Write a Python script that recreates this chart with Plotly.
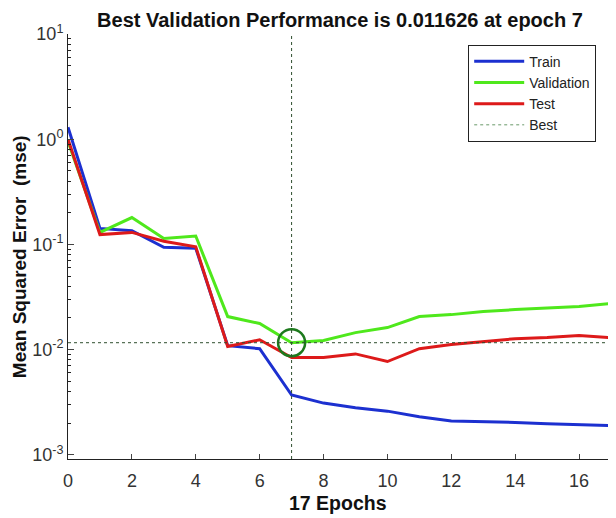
import plotly.graph_objects as go

# performance per epoch
epochs = list(range(18))
train = [1.3, 0.142, 0.135, 0.094, 0.092, 0.0109, 0.0102, 0.0037, 0.0031, 0.0028,
         0.0026, 0.0023, 0.0021, 0.00207, 0.00203, 0.00197, 0.00193, 0.00189]
validation = [0.95, 0.13, 0.18, 0.114, 0.12, 0.0206, 0.0177, 0.011626, 0.0122, 0.0145,
              0.0162, 0.0206, 0.0215, 0.023, 0.024, 0.0248, 0.0257, 0.0274]
test = [1.0, 0.124, 0.13, 0.107, 0.095, 0.0107, 0.0124, 0.0084, 0.0084, 0.0091,
        0.0077, 0.0102, 0.0112, 0.0119, 0.0127, 0.013, 0.0136, 0.013]
best_epoch = 7
best_perf = 0.011626

y_major = [1e-3, 1e-2, 1e-1, 1e0, 1e1]
y_labels = ["10<sup>-3</sup>", "10<sup>-2</sup>", "10<sup>-1</sup>", "10<sup>0</sup>", "10<sup>1</sup>"]
y_minor = [m * d for d in [1e-3, 1e-2, 1e-1, 1e0] for m in range(2, 10)]
x_ticks = list(range(0, 17, 2))

font = "Liberation Sans, Arial, sans-serif"

fig = go.Figure()
fig.add_trace(go.Scatter(x=epochs, y=train, mode="lines", name="Train",
                         line=dict(color="#1c30d0", width=3)))
fig.add_trace(go.Scatter(x=epochs, y=validation, mode="lines", name="Validation",
                         line=dict(color="#4fe81c", width=3)))
fig.add_trace(go.Scatter(x=epochs, y=test, mode="lines", name="Test",
                         line=dict(color="#dd1a1a", width=3)))
fig.add_trace(go.Scatter(x=[None], y=[None], mode="lines", name="Best",
                         line=dict(color="#6a9a6a", width=1, dash="dot")))
# best point circle
fig.add_trace(go.Scatter(x=[best_epoch], y=[best_perf], mode="markers", showlegend=False,
                         marker=dict(symbol="circle-open", size=27,
                                     line=dict(color="#1d7a1d", width=2.5), color="#1d7a1d")))

fig.add_shape(type="line", xref="x", yref="paper", x0=best_epoch, x1=best_epoch, y0=0, y1=1,
              line=dict(color="#2f4f2f", width=1, dash="dot"))
fig.add_shape(type="line", xref="paper", yref="y", x0=0, x1=1, y0=best_perf, y1=best_perf,
              line=dict(color="#2f4f2f", width=1, dash="dot"))

# axis titles placed by hand
fig.add_annotation(text="<b>17 Epochs</b>", xref="paper", yref="paper", x=0.497, y=-0.1035,
                   xanchor="center", yanchor="middle", showarrow=False,
                   font=dict(size=19.5, color="#111111"))
fig.add_annotation(text="<b>Mean Squared Error  (mse)</b>", xref="paper", yref="paper",
                   x=-0.0902, y=0.475, xanchor="center", yanchor="middle", textangle=-90,
                   showarrow=False, font=dict(size=19, color="#111111"))

# page body adds 8px around the plot, so the figure is 8px smaller than the window
fig.update_layout(
    width=608, height=510,
    margin=dict(l=60, r=5, t=26, b=59),
    paper_bgcolor="white", plot_bgcolor="white",
    font=dict(family=font, color="#262626"),
    title=dict(text="<b>Best Validation Performance is 0.011626 at epoch 7</b>",
               x=0.546, xanchor="center", y=0.977, yanchor="middle",
               font=dict(size=20, color="#111111")),
    legend=dict(x=0.737, y=0.975, xanchor="left", yanchor="top",
                bordercolor="#222222", borderwidth=1, bgcolor="white",
                font=dict(size=14, color="#222222"), tracegroupgap=0,
                itemwidth=50),
    showlegend=True,
)
fig.update_xaxes(range=[0, 17], tickvals=x_ticks, ticks="inside", ticklen=5,
                 showline=True, linecolor="#222222", linewidth=1, showgrid=False,
                 zeroline=False, tickfont=dict(size=18, color="#333333"), automargin=False,
                 ticklabelstandoff=5)
fig.update_yaxes(type="log", range=[-3.04, 1], tickvals=y_major, ticktext=y_labels,
                 ticks="inside", ticklen=6, showline=True, linecolor="#222222", linewidth=1,
                 showgrid=False, zeroline=False, tickfont=dict(size=18, color="#333333"),
                 automargin=False,
                 minor=dict(tickvals=y_minor, ticks="inside", ticklen=3, tickcolor="#222222"))

fig.write_html("out.html")
